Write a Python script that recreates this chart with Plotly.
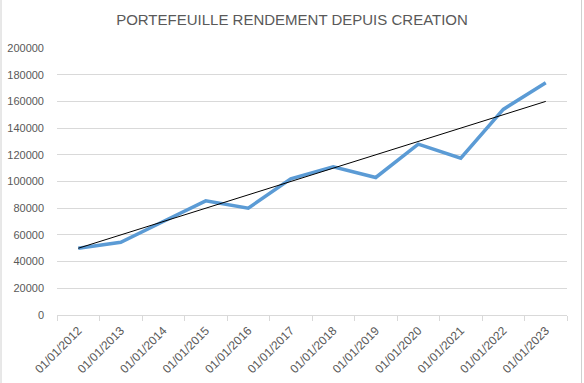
import plotly.graph_objects as go

categories = ["01/01/2012", "01/01/2013", "01/01/2014", "01/01/2015", "01/01/2016", "01/01/2017",
              "01/01/2018", "01/01/2019", "01/01/2020", "01/01/2021", "01/01/2022", "01/01/2023"]
portfolio = [50000, 54500, 70000, 85500, 80000, 102000, 111000, 103000, 128000, 117500, 154000, 174000]
trend = [50000, 60000, 70000, 80000, 90000, 100000, 110000, 120000, 130000, 140000, 150000, 160000]
y_ticks = [0, 20000, 40000, 60000, 80000, 100000, 120000, 140000, 160000, 180000, 200000]

W, H = 584, 383
ML, MR, MT, MB = 57, 17, 48, 68
PW, PH = W - ML - MR, H - MT - MB

fig = go.Figure()
fig.add_trace(go.Scatter(x=categories, y=portfolio, mode="lines",
                         line=dict(color="#5b9bd5", width=3.5), showlegend=False, hoverinfo="skip"))
fig.add_trace(go.Scatter(x=categories, y=trend, mode="lines",
                         line=dict(color="#000000", width=1), showlegend=False, hoverinfo="skip"))

grey = "#595959"
fig.update_layout(
    width=W, height=H,
    margin=dict(l=ML, r=MR, t=MT, b=MB, autoexpand=False),
    paper_bgcolor="white", plot_bgcolor="white",
    font=dict(family="Liberation Sans, Arial, sans-serif", color=grey, size=11),
    title=dict(text="PORTEFEUILLE RENDEMENT DEPUIS CREATION",
               font=dict(family="Liberation Sans, Arial, sans-serif", size=15, color=grey),
               x=(292 - ML) / PW, xref="paper", xanchor="center", y=1 - 20 / H, yanchor="middle",
               pad=dict(l=0, r=0, t=0, b=0)),
    xaxis=dict(type="category", range=[-0.5, 11.5], showgrid=False, automargin=False,
               showline=True, linecolor="#d9d9d9", linewidth=1,
               ticks="outside", tickson="boundaries", ticklen=5, tickcolor="#d9d9d9",
               tickangle=-45, ticklabelstandoff=3, tickfont=dict(size=12, color=grey)),
    yaxis=dict(range=[0, 200000], tickvals=y_ticks, tickformat="d", automargin=False,
               showgrid=True, gridcolor="#d9d9d9", gridwidth=1,
               zeroline=False, showline=False, ticks="", ticklabelstandoff=12,
               tickfont=dict(size=11, color=grey)),
)

# outer chart border (left/right)
for px in (1, 581.5):
    xp = (px - ML) / PW
    fig.add_shape(type="line", xref="paper", yref="paper",
                  x0=xp, x1=xp, y0=-(MB) / PH, y1=(PH + MT) / PH,
                  line=dict(color="#d0d0d0", width=1))

fig.write_html("out.html", config={"displayModeBar": False},
               post_script="document.body.style.margin='0';document.body.style.overflow='hidden';")
